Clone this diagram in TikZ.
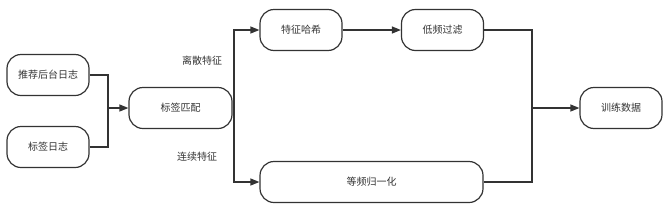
\documentclass[tikz,border=0pt]{standalone}
\usepackage{fontspec}
\setmainfont{Noto Sans CJK SC}
\usetikzlibrary{arrows.meta}
\definecolor{ln}{HTML}{333333}
\tikzset{
  box/.style={draw=ln, line width=1.2pt, rounded corners=14pt, minimum height=41pt, inner sep=0pt, font=\fontsize{10}{12}\selectfont, text=ln},
  conn/.style={draw=ln, line width=1.2pt},
  arr/.style={conn, -{Triangle[length=9pt,width=7pt]}},
  lbl/.style={font=\fontsize{10}{12}\selectfont, text=ln, inner sep=0pt}
}
\begin{document}
\begin{tikzpicture}[x=1pt,y=-1pt]
\useasboundingbox (0,0) rectangle (669,207);
\node[box, minimum width=82pt] (a) at (48,75) {推荐后台日志};
\node[box, minimum width=82pt] (b) at (48,147) {标签日志};
\node[box, minimum width=103pt] (m) at (180.5,108) {标签匹配};
\node[box, minimum width=82pt] (h) at (301,30) {特征哈希};
\node[box, minimum width=82pt] (f) at (442.5,30) {低频过滤};
\node[box, minimum width=223pt] (n) at (371.5,182) {等频归一化};
\node[box, minimum width=82pt] (t) at (621,108) {训练数据};
\node[lbl] (l1) at (202,61) {离散特征};
\node[lbl] (l2) at (197,157) {连续特征};
\coordinate (j1) at (108,108);
\coordinate (j2) at (234,108);
\coordinate (j3) at (532,108);
\draw[conn] (a.east) -| (j1);
\draw[conn] (b.east) -| (j1);
\draw[arr] (j1) -- (m.west);
\draw[conn] (m.east) -- (j2);
\draw[arr] (j2) |- (h.west);
\draw[arr] (j2) |- (n.west);
\draw[arr] (h.east) -- (f.west);
\draw[conn] (f.east) -| (j3);
\draw[conn] (n.east) -| (j3);
\draw[arr] (j3) -- (t.west);
\end{tikzpicture}
\end{document}
